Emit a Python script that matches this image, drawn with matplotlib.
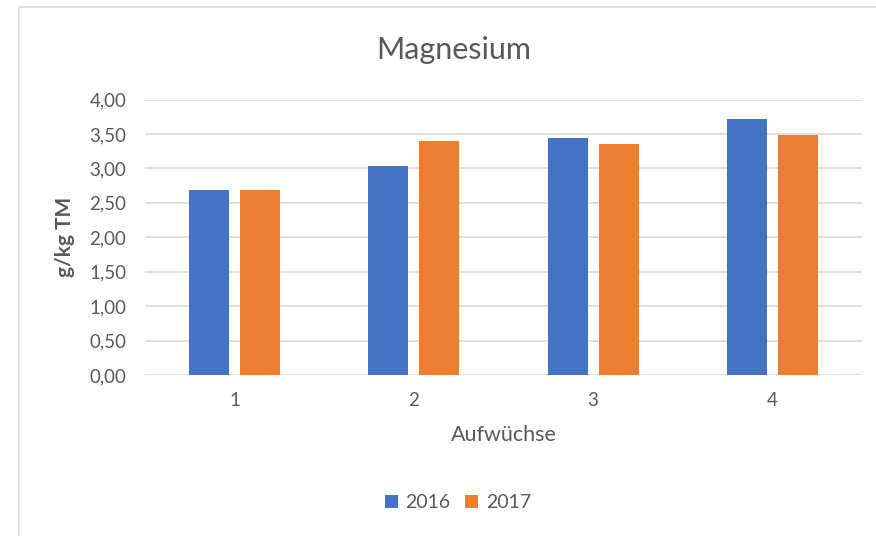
import numpy as np
import matplotlib.pyplot as plt
from matplotlib.patches import Rectangle

# Werte aus dem Diagramm (g/kg TM)
aufwuechse = ["1", "2", "3", "4"]
years = ["2016", "2017"]
mg_2016 = [2.68, 3.04, 3.44, 3.71]
mg_2017 = [2.69, 3.40, 3.35, 3.49]
y_ticks = [0.0, 0.5, 1.0, 1.5, 2.0, 2.5, 3.0, 3.5, 4.0]

plt.rcParams['font.family'] = ['Lato', 'DejaVu Sans']
grey_text = '#595959'
grid_col = '#d9d9d9'

W, H = 876, 536
fig = plt.figure(figsize=(W / 100, H / 100), dpi=100)

# Rahmen des Diagrammbereichs
fig.patches.append(Rectangle((19 / W, -0.05), 1.1, 1 - 7 / H + 0.05,
                             transform=fig.transFigure, fill=False,
                             edgecolor=grid_col, linewidth=1.2))

ax = fig.add_axes([145 / W, 1 - 375 / H, (862 - 145) / W, (375 - 99.5) / H])

x = np.arange(1, len(aufwuechse) + 1)
width = 40 / 179
offset = 25.5 / 179
ax.bar(x - offset, mg_2016, width, color='#4472C4', label=years[0], zorder=3)
ax.bar(x + offset, mg_2017, width, color='#ED7D31', label=years[1], zorder=3)

ax.set_xlim(0.5, 4.5)
ax.set_ylim(0, 4.0)
ax.set_yticks(y_ticks)
ax.set_yticklabels([f"{v:.2f}".replace('.', ',') for v in y_ticks])
ax.set_xticks(x)
ax.set_xticklabels(aufwuechse)
ax.tick_params(axis='both', length=0, labelsize=13.5, labelcolor=grey_text)
ax.tick_params(axis='y', pad=13.5)
ax.tick_params(axis='x', pad=12)
ax.grid(axis='y', color=grid_col, linewidth=1.2, zorder=0)
for s in ax.spines.values():
    s.set_visible(False)

ax.set_xlabel("Aufwüchse", fontsize=15.5, color=grey_text, labelpad=12)
ax.set_ylabel("g/kg TM", fontsize=15, color=grey_text, fontweight='bold', labelpad=10)

fig.text(454 / W, 1 - 50 / H, "Magnesium", ha='center', va='center',
         fontsize=22, color=grey_text)

fig.legend(loc='center', bbox_to_anchor=(458 / W, 1 - 503 / H), ncol=2,
           frameon=False, fontsize=14, handlelength=0.65, handleheight=0.65,
           handletextpad=0.4, columnspacing=0.75, labelcolor=grey_text)

fig.savefig("out.png", dpi=100)
